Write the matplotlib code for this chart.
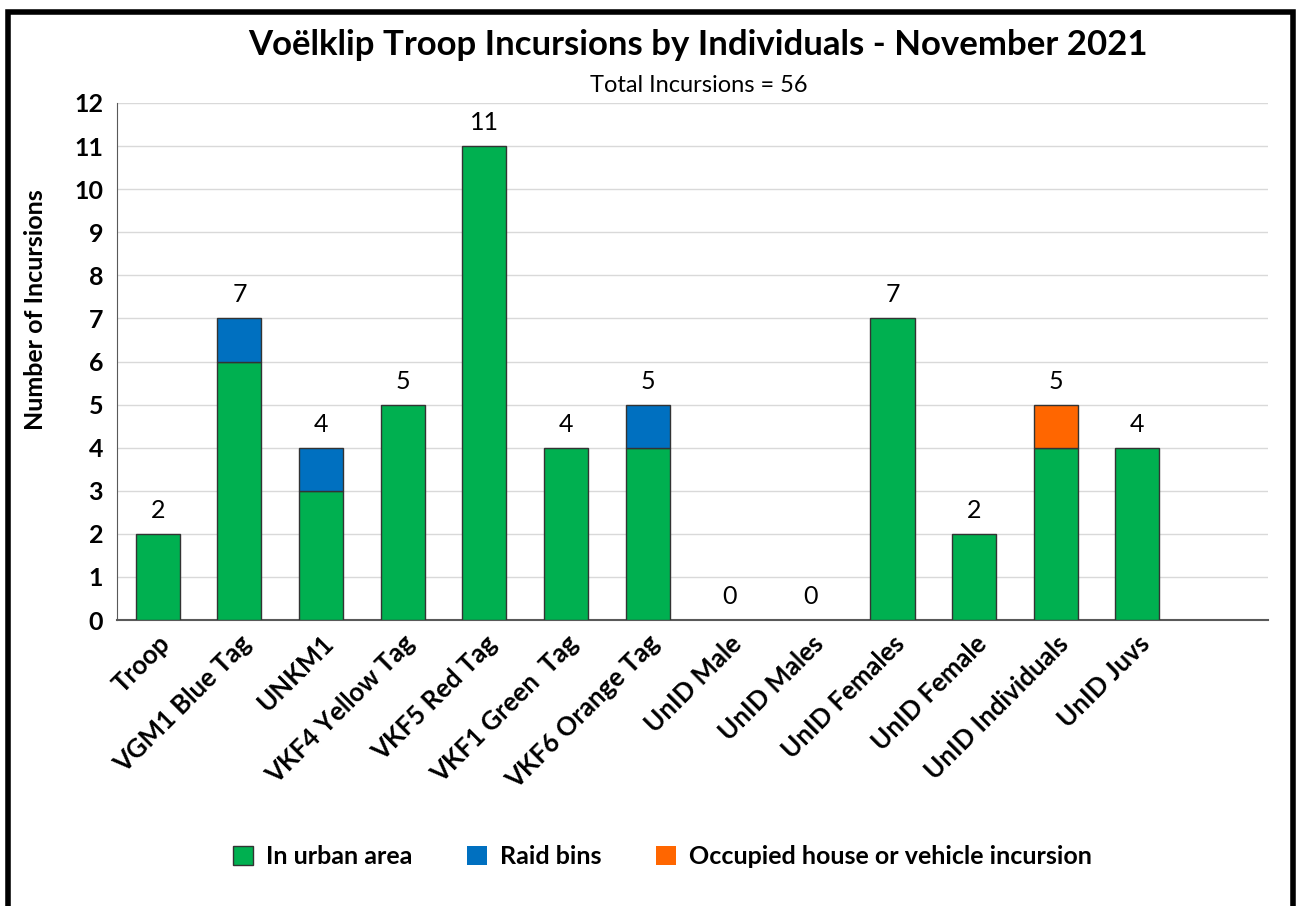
import numpy as np
import matplotlib
matplotlib.use("Agg")
import matplotlib.pyplot as plt
from matplotlib.patches import Rectangle

plt.rcParams["font.family"] = ["Lato", "DejaVu Sans"]

categories = ["Troop", "VGM1 Blue Tag", "UNKM1", "VKF4 Yellow Tag", "VKF5 Red Tag",
              "VKF1 Green  Tag", "VKF6 Orange Tag", "UnID Male", "UnID Males",
              "UnID Females", "UnID Female", "UnID Individuals", "UnID Juvs"]
urban = [2, 6, 3, 5, 11, 4, 4, 0, 0, 7, 2, 4, 4]
raid_bins = [0, 1, 1, 0, 0, 0, 1, 0, 0, 0, 0, 0, 0]
occupied = [0, 0, 0, 0, 0, 0, 0, 0, 0, 0, 0, 1, 0]
totals = [2, 7, 4, 5, 11, 4, 5, 0, 0, 7, 2, 5, 4]

GREEN = "#00B050"
BLUE = "#0070C0"
ORANGE = "#FF6600"

fig = plt.figure(figsize=(12.99, 9.06), dpi=100)
ax = fig.add_axes([117 / 1299, 1 - 620 / 906, (1268 - 117) / 1299, (620 - 103) / 906])

x = np.arange(len(categories))
w = 0.54


def edges(vals):
    return ["#333333" if v > 0 else "none" for v in vals]


ax.bar(x, urban, w, color=GREEN, label="In urban area", zorder=3,
       edgecolor=edges(urban), linewidth=1.0)
ax.bar(x, raid_bins, w, bottom=urban, color=BLUE, label="Raid bins", zorder=3,
       edgecolor=edges(raid_bins), linewidth=1.0)
bottom2 = np.array(urban) + np.array(raid_bins)
ax.bar(x, occupied, w, bottom=bottom2, color=ORANGE,
       label="Occupied house or vehicle incursion", zorder=3,
       edgecolor=edges(occupied), linewidth=1.0)

for xi, t in zip(x, totals):
    ax.text(xi, t + 0.28, str(t), ha="center", va="bottom", fontsize=18)

ax.set_xlim(-0.5, 13.6)
ax.set_ylim(0, 12)
ax.set_yticks(range(0, 13))
ax.tick_params(axis="y", length=0, labelsize=18, pad=10)
ax.tick_params(axis="x", length=0, labelsize=18.5, pad=8)
for lbl in ax.get_yticklabels():
    lbl.set_fontweight("bold")
ax.set_xticks(x)
ax.set_xticklabels(categories, rotation=45, ha="right", rotation_mode="anchor",
                   fontweight="bold")
ax.grid(axis="y", color="#D9D9D9", linewidth=1.0, zorder=0)
for s in ["top", "right"]:
    ax.spines[s].set_visible(False)
ax.spines["left"].set_color("#595959")
ax.spines["bottom"].set_color("#595959")
ax.spines["bottom"].set_linewidth(1.5)
ax.set_ylabel("Number of Incursions", fontsize=18, fontweight="bold")
ax.yaxis.set_label_coords(-0.061, 0.6)

fig.text(0.537, 1 - 45 / 906, "Voëlklip Troop Incursions by Individuals - November 2021",
         ha="center", va="center", fontsize=25, fontweight="bold")
fig.text(0.538, 1 - 85 / 906, "Total Incursions = 56", ha="center", va="center", fontsize=17)

handles, labels = ax.get_legend_handles_labels()
fig.legend(handles, labels, loc="center", bbox_to_anchor=(0.51, 1 - 857 / 906), ncol=3,
           frameon=False, prop={"weight": "bold", "size": 18},
           handlelength=0.8, handleheight=0.8, columnspacing=2.2, handletextpad=0.5)

fig.patches.append(Rectangle((8 / 1299, -0.05), (1293 - 8) / 1299, 1.05 - 12 / 906,
                             transform=fig.transFigure, fill=False,
                             edgecolor="black", linewidth=4))

fig.savefig("out.png", dpi=100)
